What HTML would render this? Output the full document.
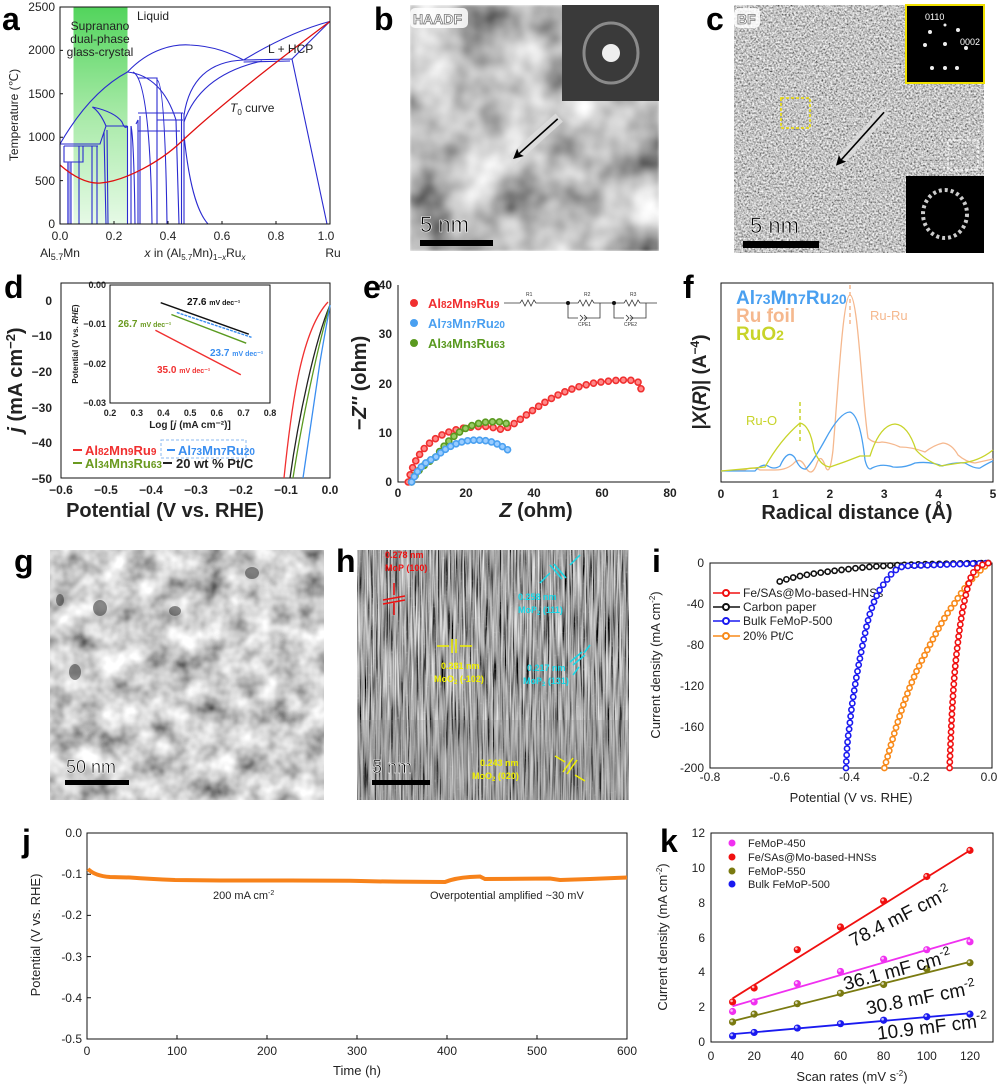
<!DOCTYPE html>
<html><head><meta charset="utf-8">
<style>
html,body{margin:0;padding:0;background:#fff;}
svg{display:block;font-family:"Liberation Sans",Arial,sans-serif;}
.t{font-size:12px;fill:#222;}
.L{font-size:32px;font-weight:bold;fill:#000;}
</style></head>
<body>
<svg id="s" width="1000" height="1088" viewBox="0 0 1000 1088" xmlns="http://www.w3.org/2000/svg">
<defs>
 <linearGradient id="gg" x1="0" y1="0" x2="0" y2="1">
  <stop offset="0" stop-color="#52d45c"/><stop offset="0.5" stop-color="#a8eaa8"/><stop offset="1" stop-color="#e6fae6"/>
 </linearGradient>
 <filter id="fb" x="0" y="0" width="1" height="1">
  <feTurbulence type="fractalNoise" baseFrequency="0.022" numOctaves="3" seed="4"/>
  <feColorMatrix values="1.3 0 0 0 -0.12  1.3 0 0 0 -0.12  1.3 0 0 0 -0.12  0 0 0 0 1"/>
  <feGaussianBlur stdDeviation="1.2"/>
 </filter>
 <filter id="fc" x="0" y="0" width="1" height="1">
  <feTurbulence type="fractalNoise" baseFrequency="0.55" numOctaves="2" seed="7"/>
  <feColorMatrix values="1.5 0 0 0 -0.2  1.5 0 0 0 -0.2  1.5 0 0 0 -0.2  0 0 0 0 1"/>
 </filter>
 <filter id="fg" x="0" y="0" width="1" height="1">
  <feTurbulence type="fractalNoise" baseFrequency="0.04" numOctaves="3" seed="11"/>
  <feColorMatrix values="1.4 0 0 0 -0.08  1.4 0 0 0 -0.08  1.4 0 0 0 -0.08  0 0 0 0 1"/>
 </filter>
 <filter id="fh" x="0" y="0" width="1" height="1">
  <feTurbulence type="fractalNoise" baseFrequency="0.6 0.02" numOctaves="2" seed="3"/>
  <feColorMatrix values="1.5 0 0 0 -0.38  1.5 0 0 0 -0.38  1.5 0 0 0 -0.38  0 0 0 0 1"/>
 </filter>
 <filter id="fk" x="0" y="0" width="1" height="1">
  <feTurbulence type="fractalNoise" baseFrequency="0.35" numOctaves="1" seed="9"/>
  <feColorMatrix values="0 0 0 0 1  0 0 0 0 1  0 0 0 0 1  3 0 0 0 -1.9"/>
 </filter>
</defs>

<!-- ============ a ============ -->
<text x="2" y="30" class="L">a</text>
<rect x="73.5" y="7" width="54" height="217" fill="url(#gg)"/>
<g fill="none" stroke="#2a2ad0" stroke-width="1.1">
 <path d="M60,144 Q90,92 127.5,72"/>
 <path d="M127.5,72 C150,48 175,44 190,45 C215,46 232,54 243.6,60"/>
 <path d="M243.6,60 Q290,32 330,21.4"/>
 <path d="M292,59 L330,21.4"/>
 <path d="M243.6,60 L292,59 L327,224"/>
 <path d="M243.6,62 L290,61"/>
 <path d="M184,115 Q192,62 243.6,60"/>
 <path d="M184,122 Q200,75 262,61"/>
 <path d="M184,135 C190,195 200,215 208,224"/>
 <path d="M127.5,72 Q162,76 176,120 L179,224"/>
 <path d="M133,72 Q150,80 152,224"/>
 <path d="M92.4,107 Q115,112 122,122 Q125,130 127.5,126"/>
 <path d="M92.4,107 Q100,112 106,126"/>
 <path d="M60,144 L100,144 L106,126 L127.5,126"/>
 <path d="M64,146 L98,146"/>
 <path d="M64,146 L64,162 L83,162 L83,146"/>
 <path d="M68,162 L68,224 M71,162 L71,224"/>
 <path d="M79,146 L79,224"/>
 <path d="M92,146 L92,224 M97,146 L97,224"/>
 <path d="M104,132 L106,224 M107,130 L108,224"/>
 <path d="M127.5,126 L127.5,224 M131,126 L131,224"/>
 <path d="M131,126 Q134,140 135,224 M136,124 L138,120 L138,224 M140,116 L140,224"/>
 <path d="M138,113 L183,113 M138,131 L180,131 M157,120 L183,120 M138,78 L157,78 L157,224"/>
 <path d="M157,80 Q165,82 167,224"/>
 <path d="M181.5,113 L181.5,224 M184,113 L184,224"/>
 <path d="M60,144 L60,224"/>
</g>
<rect x="67" y="162" width="4" height="62" fill="#6a6ae0" opacity="0.6"/>
<path d="M60,165 C75,178 88,184 100.5,183 C125,181 160,162 181.5,141.5 C215,110 265,70 330,21.4" fill="none" stroke="#e01010" stroke-width="1.3"/>
<rect x="60" y="7" width="270" height="217" fill="none" stroke="#111" stroke-width="1"/>
<g class="t" text-anchor="end" font-size="12">
 <text x="55" y="228">0</text><text x="55" y="185">500</text><text x="55" y="141">1000</text><text x="55" y="98">1500</text><text x="55" y="54">2000</text><text x="55" y="11">2500</text>
</g>
<g class="t" text-anchor="middle">
 <text x="60" y="240">0.0</text><text x="114" y="240">0.2</text><text x="168" y="240">0.4</text><text x="222" y="240">0.6</text><text x="276" y="240">0.8</text><text x="326" y="240">1.0</text>
</g>
<g stroke="#111"><path d="M60,224v-3M114,224v-3M168,224v-3M222,224v-3M276,224v-3M60,180.6h3M60,137.2h3M60,93.8h3M60,50.4h3"/></g>
<text x="18" y="115" class="t" font-size="12" text-anchor="middle" transform="rotate(-90 18 115)">Temperature (℃)</text>
<text x="60" y="257" class="t" font-size="13" text-anchor="middle">Al<tspan font-size="9" dy="3">5.7</tspan><tspan dy="-3">Mn</tspan></text>
<text x="195" y="257" class="t" font-size="12" text-anchor="middle"><tspan font-style="italic">x</tspan> in (Al<tspan font-size="8" dy="3">5.7</tspan><tspan dy="-3">Mn)</tspan><tspan font-size="8" dy="3">1−</tspan><tspan font-size="8" font-style="italic">x</tspan><tspan dy="-3">Ru</tspan><tspan font-size="8" dy="3" font-style="italic">x</tspan></text>
<text x="333" y="257" class="t" font-size="13" text-anchor="middle">Ru</text>
<text x="137" y="20" class="t" font-size="11">Liquid</text>
<g class="t" font-size="11" text-anchor="middle"><text x="100" y="30">Supranano</text><text x="100" y="43">dual-phase</text><text x="100" y="56">glass-crystal</text></g>
<text x="268" y="53" class="t" font-size="11">L + HCP</text>
<text x="230" y="112" class="t" font-size="11"><tspan font-style="italic">T</tspan><tspan font-size="8" dy="3">0</tspan><tspan dy="-3"> curve</tspan></text>

<!-- ============ b ============ -->
<text x="374" y="30" class="L">b</text>
<rect x="410" y="5" width="249" height="246" filter="url(#fb)"/>
<rect x="562" y="5" width="97" height="96" fill="#3a3a3a"/>
<ellipse cx="611" cy="53" rx="27" ry="30" fill="none" stroke="#8a8a8a" stroke-width="3"/>
<circle cx="611" cy="53" r="9" fill="#eee"/>
<rect x="410" y="8" width="58" height="20" rx="5" fill="#fff" opacity="0.85"/>
<text x="413" y="24" font-size="14" font-weight="bold" fill="#fff" stroke="#777" stroke-width="0.8">HAADF</text>
<g transform="rotate(-42 535 140)"><rect x="504" y="134" width="64" height="11" fill="#ddd" opacity="0.85"/><line x1="566" y1="139.5" x2="508" y2="139.5" stroke="#000" stroke-width="1.6"/><path d="M506,139.5 l10,-5 l-2,5 l2,5 z" fill="#000"/></g>
<rect x="420" y="240" width="73" height="6" fill="#000"/>
<text x="420" y="232" font-size="22" fill="#000" stroke="#fff" stroke-width="0.6">5 nm</text>

<!-- ============ c ============ -->
<text x="706" y="30" class="L">c</text>
<rect x="734" y="5" width="250" height="248" filter="url(#fc)"/>
<rect x="906" y="5" width="78" height="78" fill="#000" stroke="#f0e000" stroke-width="2"/>
<g fill="#eee"><circle cx="945" cy="44" r="2"/><circle cx="930" cy="32" r="2"/><circle cx="958" cy="30" r="2"/><circle cx="925" cy="45" r="2"/><circle cx="966" cy="48" r="2"/><circle cx="932" cy="68" r="2"/><circle cx="957" cy="68" r="2"/><circle cx="945" cy="25" r="1.5"/><circle cx="945" cy="68" r="2"/></g>
<text x="925" y="20" font-size="9" fill="#fff">0110</text><text x="960" y="45" font-size="9" fill="#fff">0002</text>
<rect x="906" y="176" width="78" height="77" fill="#000"/>
<ellipse cx="945" cy="214" rx="22" ry="24" fill="none" stroke="#ccc" stroke-width="4" stroke-dasharray="3 3"/>
<rect x="781" y="98" width="29" height="30" fill="none" stroke="#f0e000" stroke-width="1.5" stroke-dasharray="3 2"/>
<rect x="948" y="140" width="30" height="30" fill="none" stroke="#fff" stroke-width="1.2" stroke-dasharray="3 2"/>
<rect x="734" y="8" width="26" height="20" rx="5" fill="#fff" opacity="0.85"/>
<text x="737" y="24" font-size="14" font-weight="bold" fill="#fff" stroke="#777" stroke-width="0.8">BF</text>
<g transform="rotate(-48 860 139)"><rect x="822" y="134" width="76" height="10" fill="#ddd" opacity="0.85"/><line x1="896" y1="139" x2="826" y2="139" stroke="#000" stroke-width="1.6"/><path d="M824,139 l10,-5 l-2,5 l2,5 z" fill="#000"/></g>
<rect x="743" y="241" width="76" height="7" fill="#000"/>
<text x="750" y="233" font-size="22" fill="#000" stroke="#fff" stroke-width="0.6">5 nm</text>

<!-- ============ d ============ -->
<text x="4" y="298" class="L">d</text>
<rect x="61" y="283" width="269" height="195" fill="none" stroke="#111"/>
<g class="t" font-size="13" font-weight="bold" text-anchor="end">
 <text x="52" y="305">0</text><text x="52" y="340">−10</text><text x="52" y="376">−20</text><text x="52" y="412">−30</text><text x="52" y="447">−40</text><text x="52" y="483">−50</text>
</g>
<g class="t" font-size="13" font-weight="bold" text-anchor="middle">
 <text x="61" y="494">−0.6</text><text x="106" y="494">−0.5</text><text x="151" y="494">−0.4</text><text x="196" y="494">−0.3</text><text x="241" y="494">−0.2</text><text x="286" y="494">−0.1</text><text x="330" y="494">0.0</text>
</g>
<text x="165" y="517" font-size="20" font-weight="bold" text-anchor="middle" fill="#222">Potential (V vs. RHE)</text>
<text x="22" y="380" font-size="20" font-weight="bold" text-anchor="middle" fill="#222" transform="rotate(-90 22 380)"><tspan font-style="italic">j</tspan> (mA cm<tspan font-size="13" dy="-7">−2</tspan><tspan dy="7">)</tspan></text>
<path d="M284,478 C292,400 302,330 328,302" fill="none" stroke="#f03030" stroke-width="1.3"/>
<path d="M290,478 C298,420 315,340 330,305" fill="none" stroke="#222" stroke-width="1.3"/>
<path d="M293,478 C302,420 318,345 330,305" fill="none" stroke="#5a9a20" stroke-width="1.3"/>
<path d="M303,478 L320,362 C325,332 329,312 330,305" fill="none" stroke="#3a8ef0" stroke-width="1.3"/>
<!-- inset -->
<rect x="110" y="285" width="160" height="118" fill="#fff" stroke="#111"/>
<g font-size="9" font-weight="bold" fill="#222" text-anchor="end">
 <text x="106" y="288">0.00</text><text x="106" y="327">−0.01</text><text x="106" y="367">−0.02</text><text x="106" y="406">−0.03</text>
</g>
<g font-size="9" font-weight="bold" fill="#222" text-anchor="middle">
 <text x="110" y="416">0.2</text><text x="136.7" y="416">0.3</text><text x="163.4" y="416">0.4</text><text x="190.1" y="416">0.5</text><text x="216.8" y="416">0.6</text><text x="243.5" y="416">0.7</text><text x="270" y="416">0.8</text>
</g>
<text x="190" y="428" font-size="10" font-weight="bold" text-anchor="middle" fill="#222">Log [<tspan font-style="italic">j</tspan> (mA cm⁻²)]</text>
<text x="78" y="344" font-size="8" font-weight="bold" text-anchor="middle" fill="#222" transform="rotate(-90 78 344)">Potential (V vs. <tspan font-style="italic">RHE</tspan>)</text>
<g stroke-width="1.4" fill="none">
 <path d="M160.7,302.7 L248.8,334.2" stroke="#111"/>
 <path d="M176.8,312.5 L251.5,337.3" stroke="#3a8ef0" stroke-dasharray="3 1"/>
 <path d="M171.4,314.5 L246.2,343.2" stroke="#5a9a20"/>
 <path d="M155.4,330.2 L240.8,374.7" stroke="#f03030"/>
</g>
<g font-size="10" font-weight="bold">
 <text x="187" y="305" fill="#111">27.6 <tspan font-size="7">mV dec⁻¹</tspan></text>
 <text x="118" y="327" fill="#6a9a20">26.7 <tspan font-size="7">mV dec⁻¹</tspan></text>
 <text x="210" y="356" fill="#3a8ef0">23.7 <tspan font-size="7">mV dec⁻¹</tspan></text>
 <text x="157" y="373" fill="#f03030">35.0 <tspan font-size="7">mV dec⁻¹</tspan></text>
</g>
<g font-size="13" font-weight="bold">
 <line x1="73" y1="450" x2="82" y2="450" stroke="#f03030" stroke-width="2"/><text x="85" y="455" fill="#f03030">Al<tspan font-size="10">82</tspan>Mn<tspan font-size="10">9</tspan>Ru<tspan font-size="10">9</tspan></text>
 <rect x="161" y="440" width="85" height="18" fill="none" stroke="#8ab8f0" stroke-dasharray="3 2"/>
 <line x1="167" y1="450" x2="175" y2="450" stroke="#3a8ef0" stroke-width="2"/><text x="178" y="455" fill="#3a8ef0">Al<tspan font-size="10">73</tspan>Mn<tspan font-size="10">7</tspan>Ru<tspan font-size="10">20</tspan></text>
 <line x1="73" y1="463" x2="82" y2="463" stroke="#6a9a20" stroke-width="2"/><text x="85" y="468" fill="#6a9a20">Al<tspan font-size="10">34</tspan>Mn<tspan font-size="10">3</tspan>Ru<tspan font-size="10">63</tspan></text>
 <line x1="163" y1="463" x2="172" y2="463" stroke="#222" stroke-width="2"/><text x="176" y="468" fill="#222">20 wt % Pt/C</text>
</g>

<!-- ============ e ============ -->
<text x="363" y="298" class="L">e</text>
<path d="M398,285 L398,482 L670,482" fill="none" stroke="#111"/>
<g class="t" font-size="12" font-weight="bold" text-anchor="end">
 <text x="392" y="486">0</text><text x="392" y="437">10</text><text x="392" y="388">20</text><text x="392" y="338">30</text><text x="392" y="289">40</text>
</g>
<g class="t" font-size="12" font-weight="bold" text-anchor="middle">
 <text x="398" y="497">0</text><text x="466" y="497">20</text><text x="534" y="497">40</text><text x="602" y="497">60</text><text x="670" y="497">80</text>
</g>
<text x="536" y="517" font-size="20" font-weight="bold" text-anchor="middle" fill="#222"><tspan font-style="italic">Z</tspan> (ohm)</text>
<text x="366" y="383" font-size="20" font-weight="bold" text-anchor="middle" fill="#222" transform="rotate(-90 366 383)">−<tspan font-style="italic">Z''</tspan> (ohm)</text>
<path id="er" d="M408.2,482 C415,452.4 432,432.7 466,427.8 S493.2,432.7 506.8,427.8 C527.2,417.9 551,388.3 602,381.9 S636,388 642.8,390.8" fill="none" stroke="#f03030" stroke-width="1.2"/>
<path id="eg" d="M411.6,482 C418.4,467.2 428.6,462.3 435.4,457.4 C449,437.6 466,422.8 489.8,421.9 S503.4,425.3 510.2,427.8" fill="none" stroke="#5a9a20" stroke-width="1.2"/>
<path id="eb" d="M411.6,482 C418.4,467.2 425.2,462.3 435.4,457.4 C445.6,447.5 459.2,440.1 476.2,440.1 S500,445 510.2,451.4" fill="none" stroke="#4aa0f0" stroke-width="1.2"/>
<g font-size="13" font-weight="bold">
 <circle cx="414" cy="303" r="4" fill="#f03030"/><text x="428" y="308" fill="#f03030">Al<tspan font-size="10">82</tspan>Mn<tspan font-size="10">9</tspan>Ru<tspan font-size="10">9</tspan></text>
 <circle cx="414" cy="323" r="4" fill="#4aa0f0"/><text x="428" y="328" fill="#4aa0f0">Al<tspan font-size="10">73</tspan>Mn<tspan font-size="10">7</tspan>Ru<tspan font-size="10">20</tspan></text>
 <circle cx="414" cy="343" r="4" fill="#5a9a20"/><text x="428" y="348" fill="#5a9a20">Al<tspan font-size="10">34</tspan>Mn<tspan font-size="10">3</tspan>Ru<tspan font-size="10">63</tspan></text>
</g>
<g fill="none" stroke="#333" stroke-width="0.8">
 <path d="M504,303 L520,303 l2,-3 l3,6 l3,-6 l3,6 l3,-6 l2,3 L568,303 L578,303 l2,-3 l3,6 l3,-6 l3,6 l3,-6 l2,3 L614,303 L624,303 l2,-3 l3,6 l3,-6 l3,6 l3,-6 l2,3 L657,303"/>
 <path d="M568,303 L568,318 L578,318 M584,318 L600,318 L600,303 M614,303 L614,318 L624,318 M630,318 L646,318 L646,303"/>
 <path d="M580,315 l3,3 l-3,3 M584,315 l3,3 l-3,3 M626,315 l3,3 l-3,3 M630,315 l3,3 l-3,3"/>
</g>
<circle cx="568" cy="303" r="2" fill="#111"/><circle cx="614" cy="303" r="2" fill="#111"/>
<g font-size="5" fill="#333"><text x="526" y="296">R1</text><text x="584" y="296">R2</text><text x="630" y="296">R3</text><text x="578" y="326">CPE1</text><text x="624" y="326">CPE2</text></g>

<!-- ============ f ============ -->
<text x="683" y="298" class="L">f</text>
<rect x="721" y="283" width="272" height="199" fill="none" stroke="#111"/>
<g class="t" font-size="13" font-weight="bold" text-anchor="middle">
 <text x="721" y="498">0</text><text x="775.4" y="498">1</text><text x="829.8" y="498">2</text><text x="884.2" y="498">3</text><text x="938.6" y="498">4</text><text x="993" y="498">5</text>
</g>
<text x="857" y="519" font-size="20" font-weight="bold" text-anchor="middle" fill="#222">Radical distance (Å)</text>
<text x="706" y="382" font-size="19" font-weight="bold" text-anchor="middle" fill="#222" transform="rotate(-90 706 382)">|<tspan font-style="italic">X</tspan>(<tspan font-style="italic">R</tspan>)| (A<tspan font-size="12" dy="-7">−4</tspan><tspan dy="7">)</tspan></text>
<path d="M721,471 L745,470 Q752,466 760,470 L775,470 Q788,470 795,462 Q801,457 806,468 Q812,478 817,463 Q821,452 826,468 Q830,476 833,450 C838,390 843,295 850,295 C858,295 862,400 868,438 Q874,444 882,442 Q892,443 900,447 Q912,447 925,452 Q934,445 943,443 Q952,444 958,455 Q966,462 975,463 L993,459" fill="none" stroke="#f5b88e" stroke-width="1.3"/>
<path d="M721,471 L755,471 Q762,463 768,466 Q774,470 780,466 Q788,448 795,458 Q800,470 806,469 Q814,460 825,440 Q840,412 850,412 Q860,415 865,460 Q868,472 872,468 Q882,463 893,467 Q905,468 915,463 Q930,461 942,466 Q955,462 965,463 Q975,469 980,468 Q988,463 993,461" fill="none" stroke="#4aa0f0" stroke-width="1.3"/>
<path d="M721,471 L765,467 Q780,440 800,423 Q810,425 814,450 Q820,466 830,467 Q845,462 860,456 L870,456 Q880,425 895,424 Q908,425 916,450 Q925,460 940,466 L960,463 Q978,462 993,450" fill="none" stroke="#c8d42a" stroke-width="1.3"/>
<line x1="800" y1="402" x2="800" y2="442" stroke="#c8d42a" stroke-width="1.5" stroke-dasharray="4 3"/>
<line x1="850" y1="285" x2="850" y2="326" stroke="#f5b88e" stroke-width="1.5" stroke-dasharray="4 3"/>
<text x="870" y="320" font-size="13" fill="#f5b88e">Ru-Ru</text>
<text x="746" y="425" font-size="13" fill="#c8d42a">Ru-O</text>
<g font-size="19" font-weight="bold">
 <text x="736" y="304" fill="#4aa0f0">Al<tspan font-size="14">73</tspan>Mn<tspan font-size="14">7</tspan>Ru<tspan font-size="14">20</tspan></text>
 <text x="736" y="322" fill="#f5b88e">Ru foil</text>
 <text x="736" y="340" fill="#c8d42a">RuO<tspan font-size="14">2</tspan></text>
</g>

<!-- ============ g ============ -->
<text x="14" y="572" class="L">g</text>
<rect x="50" y="550" width="274" height="250" filter="url(#fg)"/>
<g fill="#333" opacity="0.55"><ellipse cx="252" cy="573" rx="7" ry="6"/><ellipse cx="100" cy="608" rx="7" ry="8"/><ellipse cx="75" cy="672" rx="6" ry="8"/><ellipse cx="175" cy="611" rx="6" ry="5"/><ellipse cx="60" cy="600" rx="4" ry="6"/></g>
<rect x="65" y="780" width="64" height="5" fill="#000"/>
<text x="66" y="773" font-size="18" fill="#000" stroke="#fff" stroke-width="0.6">50 nm</text>

<!-- ============ h ============ -->
<text x="336" y="572" class="L">h</text>
<rect x="357" y="550" width="272" height="250" filter="url(#fh)"/>
<rect x="357" y="550" width="272" height="250" filter="url(#fk)" opacity="0.35"/>
<rect x="357" y="720" width="272" height="80" fill="#888" opacity="0.25"/>
<g font-size="9" font-weight="bold">
 <text x="385" y="558" fill="#f01010">0.278 nm</text><text x="385" y="571" fill="#f01010">MoP (100)</text>
 <text x="518" y="600" fill="#18d8e8">0.258 nm</text><text x="518" y="613" fill="#18d8e8">MoP<tspan font-size="6" dy="2">2</tspan><tspan dy="-2"> (111)</tspan></text>
 <text x="441" y="669" fill="#f0f000">0.281 nm</text><text x="434" y="682" fill="#f0f000">MoO<tspan font-size="6" dy="2">2</tspan><tspan dy="-2"> (-102)</tspan></text>
 <text x="527" y="671" fill="#18d8e8">0.217 nm</text><text x="523" y="684" fill="#18d8e8">MoP<tspan font-size="6" dy="2">2</tspan><tspan dy="-2"> (131)</tspan></text>
 <text x="480" y="766" fill="#f0f000">0.243 nm</text><text x="472" y="779" fill="#f0f000">MoO<tspan font-size="6" dy="2">2</tspan><tspan dy="-2"> (020)</tspan></text>
</g>
<g stroke-width="1.5" fill="none">
 <path d="M383,600 l22,-4 M383,604 l22,-4 M394,583 l0,12 M394,615 l0,-12" stroke="#f01010"/>
 <path d="M452,639 l0,14 M456,639 l0,14 M437,646 l12,0 M472,646 l-12,0" stroke="#f0f000"/>
 <path d="M550,565 l12,14 M554,564 l12,14 M540,583 l10,-10 M580,555 l-10,10" stroke="#18d8e8"/>
 <path d="M570,662 l12,-10 M573,665 l12,-10 M573,675 l6,-8 M590,645 l-6,8" stroke="#18d8e8"/>
 <path d="M563,772 l10,-14 M567,774 l10,-14 M555,756 l10,6 M585,781 l-10,-6" stroke="#f0f000"/>
</g>
<rect x="372" y="780" width="58" height="5" fill="#000"/>
<text x="372" y="773" font-size="18" fill="#000" stroke="#fff" stroke-width="0.6">5 nm</text>

<!-- ============ i ============ -->
<text x="652" y="572" class="L">i</text>
<rect x="710" y="563" width="282" height="205" fill="none" stroke="#111"/>
<g class="t" font-size="12" text-anchor="end">
 <text x="704" y="567">0</text><text x="704" y="608">-40</text><text x="704" y="649">-80</text><text x="704" y="690">-120</text><text x="704" y="731">-160</text><text x="704" y="772">-200</text>
</g>
<g class="t" font-size="12" text-anchor="middle">
 <text x="710" y="781">-0.8</text><text x="779.75" y="781">-0.6</text><text x="849.5" y="781">-0.4</text><text x="919.25" y="781">-0.2</text><text x="989" y="781">0.0</text>
</g>
<text x="851" y="802" font-size="13" text-anchor="middle" fill="#222">Potential (V vs. RHE)</text>
<text x="660" y="665" font-size="13" text-anchor="middle" fill="#222" transform="rotate(-90 660 665)">Current density (mA cm<tspan font-size="8" dy="-5">-2</tspan><tspan dy="5">)</tspan></text>
<path id="ik" d="M779.75,581.5 C795,576 815,573 849.5,569 C880,565 920,564 989,563" fill="none" stroke="#111" stroke-width="1"/>
<path id="ib" d="M846,768 C847,745 848,735 849.5,727 C852,700 858,665 867,624.5 C873,600 880,588 884.4,583.5 C890,575 895,568 905,566 L989,563" fill="none" stroke="#1a1af0" stroke-width="1"/>
<path id="io" d="M884.4,768 C895,730 905,695 919.25,665.5 C935,635 945,615 954.1,604 C962,592 970,578 989,563" fill="none" stroke="#f88a1a" stroke-width="1"/>
<path id="ir" d="M949.6,768 C951,730 953,680 957.6,645 C961,615 966,590 971.6,575.3 C976,567 982,564 989,563" fill="none" stroke="#f01010" stroke-width="1"/>
<g font-size="12" fill="#222">
 <line x1="713" y1="593" x2="740" y2="593" stroke="#f01010" stroke-width="1.5"/><circle cx="726" cy="593" r="3" fill="#fff" stroke="#f01010" stroke-width="2"/><text x="743" y="597">Fe/SAs@Mo-based-HNSs</text>
 <line x1="713" y1="607" x2="740" y2="607" stroke="#111" stroke-width="1.5"/><circle cx="726" cy="607" r="3" fill="#fff" stroke="#111" stroke-width="2"/><text x="743" y="611">Carbon paper</text>
 <line x1="713" y1="621" x2="740" y2="621" stroke="#1a1af0" stroke-width="1.5"/><circle cx="726" cy="621" r="3" fill="#fff" stroke="#1a1af0" stroke-width="2"/><text x="743" y="625">Bulk FeMoP-500</text>
 <line x1="713" y1="636" x2="740" y2="636" stroke="#f88a1a" stroke-width="1.5"/><circle cx="726" cy="636" r="3" fill="#fff" stroke="#f88a1a" stroke-width="2"/><text x="743" y="640">20% Pt/C</text>
</g>

<!-- ============ j ============ -->
<text x="22" y="852" class="L">j</text>
<rect x="87" y="833" width="540" height="206" fill="none" stroke="#111"/>
<g class="t" font-size="12" text-anchor="end">
 <text x="82" y="837">0.0</text><text x="82" y="878">-0.1</text><text x="82" y="919">-0.2</text><text x="82" y="961">-0.3</text><text x="82" y="1002">-0.4</text><text x="82" y="1043">-0.5</text>
</g>
<g class="t" font-size="12" text-anchor="middle">
 <text x="87" y="1055">0</text><text x="177" y="1055">100</text><text x="267" y="1055">200</text><text x="357" y="1055">300</text><text x="447" y="1055">400</text><text x="537" y="1055">500</text><text x="627" y="1055">600</text>
</g>
<g stroke="#111"><path d="M87,874.2h4M87,915.4h4M87,956.6h4M87,997.8h4M177,1039v-4M267,1039v-4M357,1039v-4M447,1039v-4M537,1039v-4"/></g>
<text x="357" y="1075" font-size="13" text-anchor="middle" fill="#222">Time (h)</text>
<text x="40" y="935" font-size="13" text-anchor="middle" fill="#222" transform="rotate(-90 40 935)">Potential (V vs. RHE)</text>
<path d="M88,869 Q95,876 110,877 L130,877.5 Q150,879 175,880 L220,880.5 Q250,880.5 290,880.5 L350,880.8 Q400,882 445,882 Q455,878 470,877 L480,876.5 L485,879 L520,878.8 L550,878.5 L560,880 L590,879 L627,877.5" fill="none" stroke="#f7821a" stroke-width="4"/>
<text x="213" y="899" font-size="11" fill="#222">200 mA cm<tspan font-size="7" dy="-4">-2</tspan></text>
<text x="430" y="899" font-size="11" fill="#222">Overpotential amplified ~30 mV</text>

<!-- ============ k ============ -->
<text x="660" y="852" class="L">k</text>
<rect x="711" y="833" width="282" height="209" fill="none" stroke="#111"/>
<g class="t" font-size="12" text-anchor="end">
 <text x="705" y="1046">0</text><text x="705" y="1011">2</text><text x="705" y="976">4</text><text x="705" y="942">6</text><text x="705" y="907">8</text><text x="705" y="872">10</text><text x="705" y="837">12</text>
</g>
<g class="t" font-size="12" text-anchor="middle">
 <text x="711" y="1060">0</text><text x="754.2" y="1060">20</text><text x="797.3" y="1060">40</text><text x="840.5" y="1060">60</text><text x="883.6" y="1060">80</text><text x="926.8" y="1060">100</text><text x="970" y="1060">120</text>
</g>
<text x="852" y="1081" font-size="13" text-anchor="middle" fill="#222">Scan rates (mV s<tspan font-size="8" dy="-5">-2</tspan><tspan dy="5">)</tspan></text>
<text x="667" y="937" font-size="13" text-anchor="middle" fill="#222" transform="rotate(-90 667 937)">Current density (mA cm<tspan font-size="8" dy="-5">-2</tspan><tspan dy="5">)</tspan></text>
<g id="kd"></g>
<g font-size="11" fill="#222">
 <circle cx="732" cy="843" r="3.5" fill="#f030f0"/><text x="748" y="847">FeMoP-450</text>
 <circle cx="732" cy="857" r="3.5" fill="#f01010"/><text x="748" y="861">Fe/SAs@Mo-based-HNSs</text>
 <circle cx="732" cy="871" r="3.5" fill="#7a7a10"/><text x="748" y="875">FeMoP-550</text>
 <circle cx="732" cy="884" r="3.5" fill="#1a1af0"/><text x="748" y="888">Bulk FeMoP-500</text>
</g>
<g font-size="19" fill="#111">
 <text x="903" y="922" text-anchor="middle" transform="rotate(-27 903 922)">78.4 mF cm<tspan font-size="12" dy="-8">-2</tspan></text>
 <text x="899" y="976" text-anchor="middle" transform="rotate(-15 899 976)">36.1 mF cm<tspan font-size="12" dy="-8">-2</tspan></text>
 <text x="922" y="1004" text-anchor="middle" transform="rotate(-11 922 1004)">30.8 mF cm<tspan font-size="12" dy="-8">-2</tspan></text>
 <text x="933" y="1033" text-anchor="middle" transform="rotate(-7 933 1033)">10.9 mF cm<tspan font-size="12" dy="-8">-2</tspan></text>
</g>
</svg>
<script>
(function(){
 var NS="http://www.w3.org/2000/svg", s=document.getElementById("s");
 function mk(tag,a,p){var e=document.createElementNS(NS,tag);for(var k in a)e.setAttribute(k,a[k]);(p||s).appendChild(e);return e;}
 function marks(id,step,col,r,light){
  var p=document.getElementById(id),L=p.getTotalLength();
  for(var d=0;d<=L;d+=step){var q=p.getPointAtLength(d);
   mk("circle",{cx:q.x,cy:q.y,r:r,fill:light,stroke:col,"stroke-width":1.6});}
 }
 marks("er",7.5,"#f03030",3,"#f88");
 marks("eg",7,"#5a9a20",3,"#9c6");
 marks("eb",6,"#4aa0f0",3,"#9cf");
 marks("ik",7,"#111",2.6,"#fff");
 marks("ib",6.5,"#1a1af0",2.6,"#fff");
 marks("io",6,"#f88a1a",2.6,"#fff");
 marks("ir",6,"#f01010",2.6,"#fff");
 var X=function(v){return 711+2.158*v;},Y=function(v){return 1042-17.42*v;};
 var xs=[10,20,40,60,80,100,120];
 var S=[["#f01010",[2.3,3.1,5.3,6.6,8.1,9.5,11],2.5,11],
        ["#f030f0",[1.75,2.3,3.35,4.05,4.75,5.3,5.75],2.05,6.0],
        ["#7a7a10",[1.15,1.6,2.2,2.8,3.3,4.2,4.55],1.2,4.6],
        ["#1a1af0",[0.35,0.55,0.8,1.05,1.25,1.45,1.6],0.45,1.65]];
 var g=document.getElementById("kd");
 S.forEach(function(t){
  mk("line",{x1:X(10),y1:Y(t[2]),x2:X(120),y2:Y(t[3]),stroke:t[0],"stroke-width":1.8},g);
  xs.forEach(function(x,i){mk("circle",{cx:X(x),cy:Y(t[1][i]),r:3.6,fill:t[0]},g);
   mk("circle",{cx:X(x)-1,cy:Y(t[1][i])-1,r:1.3,fill:"#fff",opacity:0.7},g);});
 });
})();
</script>
</body></html>
